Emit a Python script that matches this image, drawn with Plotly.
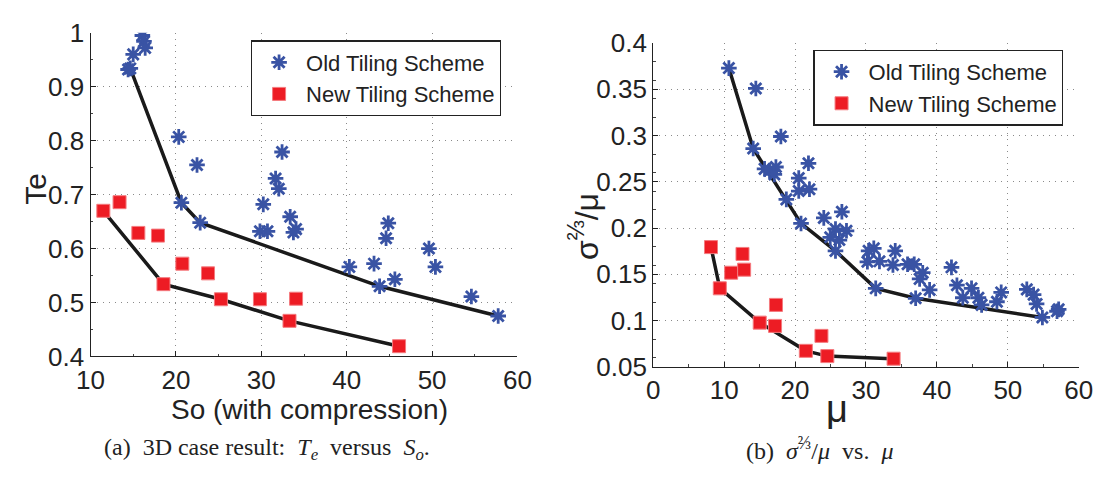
import plotly.graph_objects as go

W, H = 1112, 478

# ---- Panel (a): Te vs So ----
a_old_x = [16.07, 16.26, 16.4, 15.0, 14.66, 14.4, 20.33, 22.47, 20.64, 22.84, 30.23, 29.84, 30.72,
           32.43, 31.67, 32.05, 33.38, 34.07, 33.76, 44.87, 44.61, 49.63, 50.39, 40.31, 43.2,
           45.64, 43.85, 54.6, 57.74]
a_old_y = [0.995, 0.984, 0.972, 0.96, 0.934, 0.932, 0.807, 0.755, 0.685, 0.648, 0.682, 0.632, 0.632,
           0.779, 0.730, 0.711, 0.659, 0.636, 0.630, 0.647, 0.619, 0.600, 0.566, 0.566, 0.572,
           0.543, 0.530, 0.511, 0.475]
a_new_x = [11.5, 13.4, 15.6, 17.9, 20.75, 23.76, 18.54, 25.27, 29.84, 34.07, 33.3, 46.13]
a_new_y = [0.670, 0.686, 0.629, 0.624, 0.572, 0.554, 0.534, 0.506, 0.506, 0.507, 0.466, 0.419]
a_old_fit_x = [14.66, 20.64, 22.84, 43.85, 57.74]
a_old_fit_y = [0.934, 0.685, 0.648, 0.530, 0.475]
a_new_fit_x = [11.5, 18.54, 25.27, 33.3, 46.13]
a_new_fit_y = [0.670, 0.534, 0.506, 0.466, 0.419]

# ---- Panel (b): sigma^(2/3)/mu vs mu ----
b_old_x = [10.67, 14.47, 14.1, 18.0, 15.7, 16.4, 17.3, 17.08, 18.77, 20.52, 20.52, 21.89, 22.03,
           20.84, 24.05, 26.6, 25.7, 27.25, 24.96, 26.25, 25.7, 30.37, 31.1, 30.2, 31.9, 34.12,
           33.8, 35.86, 36.8, 38.0, 37.56, 31.37, 38.97, 37.0, 42.05, 42.82, 44.88, 43.65, 45.85,
           46.3, 49.06, 48.46, 52.67, 53.63, 54.05, 54.87, 57.16, 56.93]
b_old_y = [0.373, 0.351, 0.286, 0.299, 0.264, 0.262, 0.266, 0.258, 0.231, 0.254, 0.240, 0.270, 0.242,
           0.205, 0.211, 0.2176, 0.199, 0.197, 0.190, 0.187, 0.1753, 0.1753, 0.178, 0.1635, 0.164,
           0.1753, 0.160, 0.1608, 0.1608, 0.1517, 0.145, 0.1348, 0.1331, 0.124, 0.1575, 0.1382,
           0.1348, 0.1246, 0.1246, 0.1169, 0.1304, 0.1203, 0.1337, 0.128, 0.1179, 0.1033, 0.1121,
           0.110]
b_new_x = [8.15, 9.39, 10.99, 12.59, 12.82, 17.31, 15.02, 17.18, 23.72, 21.52, 24.55, 33.89]
b_new_y = [0.1794, 0.1348, 0.1517, 0.172, 0.155, 0.1169, 0.0977, 0.0942, 0.0834, 0.0672, 0.0615, 0.0587]
b_old_fit_x = [10.67, 14.1, 20.84, 25.7, 31.37, 37.0, 54.87]
b_old_fit_y = [0.373, 0.286, 0.205, 0.1753, 0.1348, 0.124, 0.1033]
b_new_fit_x = [8.15, 9.39, 15.02, 21.52, 24.55, 33.6]
b_new_fit_y = [0.1794, 0.1348, 0.0977, 0.0672, 0.0615, 0.0587]

a_xticks = [10, 20, 30, 40, 50, 60]
a_yticks = [0.4, 0.5, 0.6, 0.7, 0.8, 0.9, 1.0]
a_ylabels = ["0.4", "0.5", "0.6", "0.7", "0.8", "0.9", "1"]
b_xticks = [0, 10, 20, 30, 40, 50, 60]
b_yticks = [0.05, 0.1, 0.15, 0.2, 0.25, 0.3, 0.35, 0.4]
b_ylabels = ["0.05", "0.1", "0.15", "0.2", "0.25", "0.3", "0.35", "0.4"]

BLUE = "#3953A4"
RED = "#ED1C24"
FONT = "Liberation Sans"

def px(x):
    return x / W

def py(y):
    return 1 - y / H

fig = go.Figure()

def add_panel(xa, ya, ox, oy, nx, ny, ofx, ofy, nfx, nfy, leg):
    fig.add_trace(go.Scatter(x=ofx, y=ofy, mode="lines", xaxis=xa, yaxis=ya,
                             line=dict(color="#1a1a1a", width=3.5), showlegend=False))
    fig.add_trace(go.Scatter(x=nfx, y=nfy, mode="lines", xaxis=xa, yaxis=ya,
                             line=dict(color="#1a1a1a", width=3.5), showlegend=False))
    fig.add_trace(go.Scatter(x=ox, y=oy, mode="markers", name="Old Tiling Scheme",
                             xaxis=xa, yaxis=ya, legend=leg,
                             marker=dict(symbol="asterisk-open", size=13, color=BLUE,
                                         line=dict(color=BLUE, width=2.8))))
    fig.add_trace(go.Scatter(x=nx, y=ny, mode="markers", name="New Tiling Scheme",
                             xaxis=xa, yaxis=ya, legend=leg,
                             marker=dict(symbol="square", size=13, color=RED,
                                         line=dict(color="#F47A7E", width=1))))

add_panel("x", "y", a_old_x, a_old_y, a_new_x, a_new_y,
          a_old_fit_x, a_old_fit_y, a_new_fit_x, a_new_fit_y, "legend")
add_panel("x2", "y2", b_old_x, b_old_y, b_new_x, b_new_y,
          b_old_fit_x, b_old_fit_y, b_new_fit_x, b_new_fit_y, "legend2")

axis_common = dict(
    showline=True, linecolor="#222", linewidth=1.2, mirror=False,
    ticks="inside", ticklen=5, tickcolor="#222",
    showgrid=True, gridcolor="#8a8a8a", gridwidth=1, griddash="1px,5px",
    zeroline=False, tickfont=dict(family=FONT, size=26, color="#222"),
    minor=dict(ticks="inside", ticklen=2.5, tickcolor="#444", showgrid=False),
)

legend_common = dict(xanchor="left", yanchor="top",
                     bgcolor="white", bordercolor="#222", borderwidth=1.2,
                     font=dict(family=FONT, size=22, color="#222"),
                     itemwidth=44, tracegroupgap=0)

fig.update_layout(
    width=W, height=H, margin=dict(l=0, r=0, t=0, b=0),
    paper_bgcolor="white", plot_bgcolor="white",
    font=dict(family=FONT, color="#222"),
    xaxis=dict(domain=[px(78.5), px(516.5)], range=[10, 60], tickvals=a_xticks,
               anchor="y", **axis_common),
    yaxis=dict(domain=[py(364.3), py(19)], range=[0.4, 1.0], tickvals=a_yticks,
               ticktext=a_ylabels, anchor="x", **axis_common),
    xaxis2=dict(domain=[px(655.7), px(1092.3)], range=[0, 60], tickvals=b_xticks,
                anchor="y2", **axis_common),
    yaxis2=dict(domain=[py(375.3), py(30)], range=[0.05, 0.4], tickvals=b_yticks,
                ticktext=b_ylabels, anchor="x2", **axis_common),
    legend=dict(x=px(243), y=py(27), **legend_common),
    legend2=dict(x=px(820), y=py(37), **legend_common),
)

ann = [
    dict(text="Te", x=px(22), y=py(185), textangle=-90, font=dict(size=30)),
    dict(text="So (with compression)", x=px(303), y=py(421), font=dict(size=28)),
    dict(text="σ<sup><span style='font-size:24px'>⅔</span></sup>/μ", x=px(584), y=py(226),
         textangle=-90, font=dict(size=32)),
    dict(text="μ", x=px(844), y=py(420), font=dict(size=38)),
    dict(text="(a)  3D case result:  <i>T<sub>e</sub></i>  versus  <i>S<sub>o</sub></i>.",
         x=px(260), y=py(463), font=dict(family="Liberation Serif", size=24)),
    dict(text="(b)  <i>σ</i><sup><span style='font-size:18px'>⅔</span></sup>/<i>μ</i>  vs.  <i>μ</i>",
         x=px(826), y=py(463), font=dict(family="Liberation Serif", size=24)),
]
for a in ann:
    a.update(xref="paper", yref="paper", showarrow=False, xanchor="center", yanchor="middle")
    a["font"].setdefault("family", FONT)
    a["font"].setdefault("color", "#222")
    fig.add_annotation(**a)

fig.write_html("out.html")
